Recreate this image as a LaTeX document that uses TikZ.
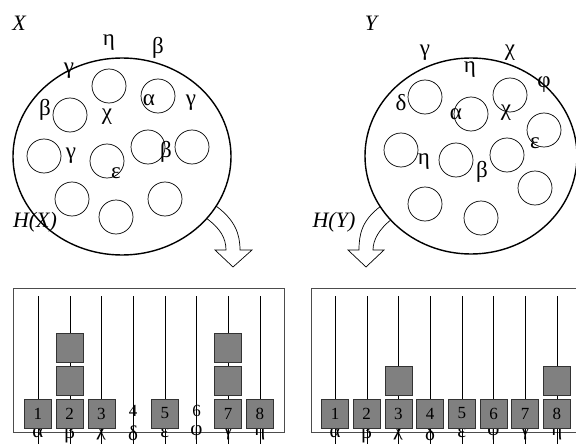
\documentclass[tikz,border=0pt]{standalone}
\usepackage{fontspec}
\setmainfont{Liberation Serif}
\usetikzlibrary{shapes.geometric}

\begin{document}
\begin{tikzpicture}
    [x=1pt,y=-1pt
    ,every node/.style={inner sep=0pt}
    ,set/.style={draw,ellipse,line width=1.4pt,fill=white}
    ,ball/.style={draw,circle,minimum size=34pt,line width=0.7pt}
    ,sym/.style={font=\fontsize{23}{25}\selectfont}
    ,tag/.style={font=\fontsize{22}{24}\selectfont\itshape}
    ,bin/.style={draw=black!80,fill=black!50,line width=0.7pt,minimum width=27pt,minimum height=29pt,font=\fontsize{17}{19}\selectfont}
    ,num/.style={font=\fontsize{17}{19}\selectfont}
    ,lab/.style={font=\fontsize{21}{23}\selectfont}
    ,frame/.style={draw=black!70,line width=1pt}
    ,sink/.style={draw,fill=white,line width=0.7pt}
    ]
    \useasboundingbox (0,0) rectangle (576,444);

    % block arrows, the sets are drawn over their roots
    \draw[sink] (216,206) .. controls (235,220) and (240,234) .. (240,250)
      -- (252,250) -- (233,267) -- (215,250) -- (226,250)
      .. controls (226,238) and (220,228) .. (206,218);
    \draw[sink] (381,206) .. controls (362,220) and (359,234) .. (359,250)
      -- (348,250) -- (366,267) -- (384,250) -- (373,250)
      .. controls (373,240) and (379,229) .. (392,219);

    % set X
    \node[set,minimum width=218pt,minimum height=197pt] (setX) at (122,156.5) {};
    \foreach \x/\y [count=\i] in {109/86,158/96,70/115,44/156,107/161,148/147,192/147,72/199,165/199,116/217}
      \node[ball] (bx\i) at (\x,\y) {};
    \foreach \x/\y/\g [count=\i] in {109/43/η,158/48/β,69/71/γ,45/110/β,107/117/χ,149/100/α,191/103/γ,71/156/γ,116/173/ε,166/152/β}
      \node[sym] (gx\i) at (\x,\y) {\g};
    \node[tag] (nX) at (19,23) {X};
    \node[tag] (hX) at (35,222) {H(X)};

    % set Y
    \node[set,minimum width=212pt,minimum height=196pt] (setY) at (471,156) {};
    \foreach \x/\y [count=\i] in {425/97,510/95,471/114,401/150,456/160,507/155,544/130,535/188,425/204,481/218}
      \node[ball] (by\i) at (\x,\y) {};
    \foreach \x/\y/\g [count=\i] in {425/53/γ,470/70/η,510/53/χ,544/85/φ,401/103/δ,456/114/α,506/113/χ,535/143/ε,424/162/η,482/172/β}
      \node[sym] (gy\i) at (\x,\y) {\g};
    \node[tag] (nY) at (371,23) {Y};
    \node[tag] (hY) at (334,222) {H(Y)};

    % histogram of X
    \draw[frame] (13,288) rectangle (284,432);
    \foreach \k/\g [count=\i] in {1/α,3/β,1/χ,0/δ,1/ε,0/φ,3/γ,1/η}{
      \pgfmathsetmacro\px{38+31.7*(\i-1)}
      \node[lab] (lx\i) at (\px,433) {\g};
      \draw (\px,296) -- (\px,446);
      \ifnum\k>0
        \foreach \j in {1,...,\k}
          \node[bin] (hx\i-\j) at (\px,{413.5-33*(\j-1)}) {\ifnum\j=1 \i\fi};
      \else
        \node[num] (hx\i-1) at (\px,411) {\i};
      \fi
    }

    % histogram of Y
    \draw[frame] (311,288) rectangle (582,432);
    \foreach \k/\g [count=\i] in {1/α,1/β,2/χ,1/δ,1/ε,1/φ,1/γ,2/η}{
      \pgfmathsetmacro\px{335+31.7*(\i-1)}
      \node[lab] (ly\i) at (\px,433) {\g};
      \draw (\px,296) -- (\px,446);
      \foreach \j in {1,...,\k}
        \node[bin] (hy\i-\j) at (\px,{413.5-33*(\j-1)}) {\ifnum\j=1 \i\fi};
    }

  \end{tikzpicture}
\end{document}
